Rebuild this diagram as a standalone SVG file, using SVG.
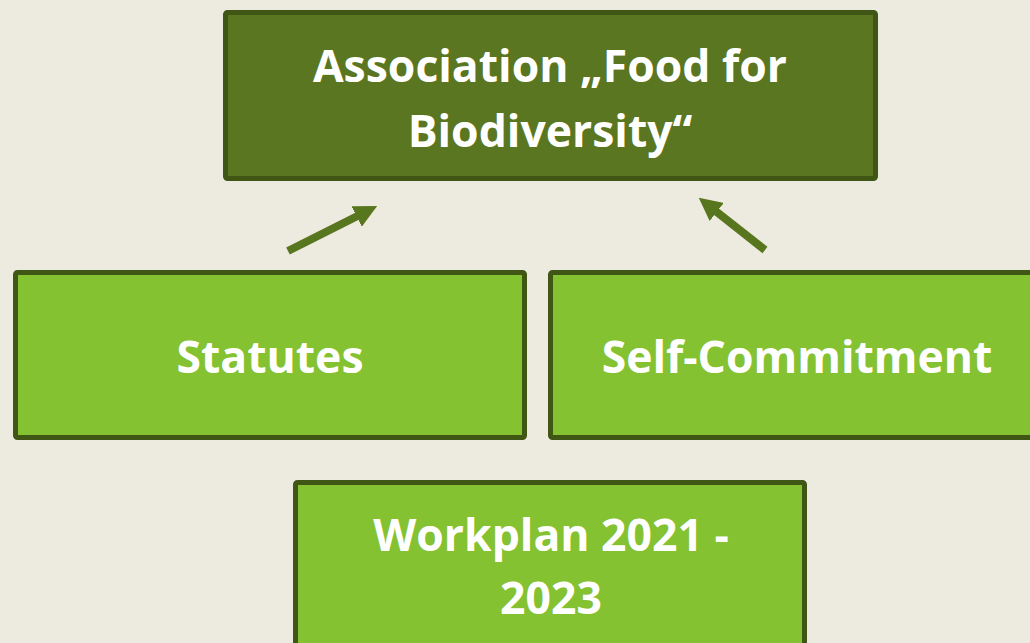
<svg xmlns="http://www.w3.org/2000/svg" width="1030" height="643" viewBox="0 0 1030 643">
<defs>
<style>
.bg{fill:#EDEAE0}
.box{stroke:#3F5614;stroke-width:5}
.dark{fill:#5A7620}
.light{fill:#84C232}
.t{font-family:"Open Sans","Liberation Sans",sans-serif;font-weight:700;font-size:44.5px;fill:#FFFFFF;text-anchor:middle}
.arrow{stroke:#58761E;stroke-width:8;fill:none}
</style>
<marker id="head" viewBox="0 0 23 23" refX="1" refY="11.5" markerWidth="23" markerHeight="23" markerUnits="userSpaceOnUse" orient="auto">
<path d="M0,0 L23,11.5 L0,23 Z" fill="#58761E"/>
</marker>
</defs>
<rect class="bg" x="0" y="0" width="1030" height="643"/>
<g id="connectors">
<line class="arrow" x1="288" y1="251" x2="357.5" y2="216" marker-end="url(#head)"/>
<line class="arrow" x1="765" y1="250" x2="716" y2="211.3" marker-end="url(#head)"/>
</g>
<g id="association">
<rect class="box dark" x="225.5" y="12.5" width="650" height="166" rx="2"/>
<text class="t" x="550" y="82">Association „Food for</text>
<text class="t" x="550" y="147">Biodiversity“</text>
</g>
<g id="statutes">
<rect class="box light" x="15.5" y="272.5" width="509" height="165" rx="2"/>
<text class="t" x="270" y="373">Statutes</text>
</g>
<g id="self-commitment">
<rect class="box light" x="550.5" y="272.5" width="500" height="165" rx="2"/>
<text class="t" x="797" y="373">Self-Commitment</text>
</g>
<g id="workplan">
<rect class="box light" x="295.5" y="482.5" width="509" height="180" rx="2"/>
<text class="t" x="551" y="551">Workplan 2021 -</text>
<text class="t" x="551" y="614">2023</text>
</g>
</svg>
